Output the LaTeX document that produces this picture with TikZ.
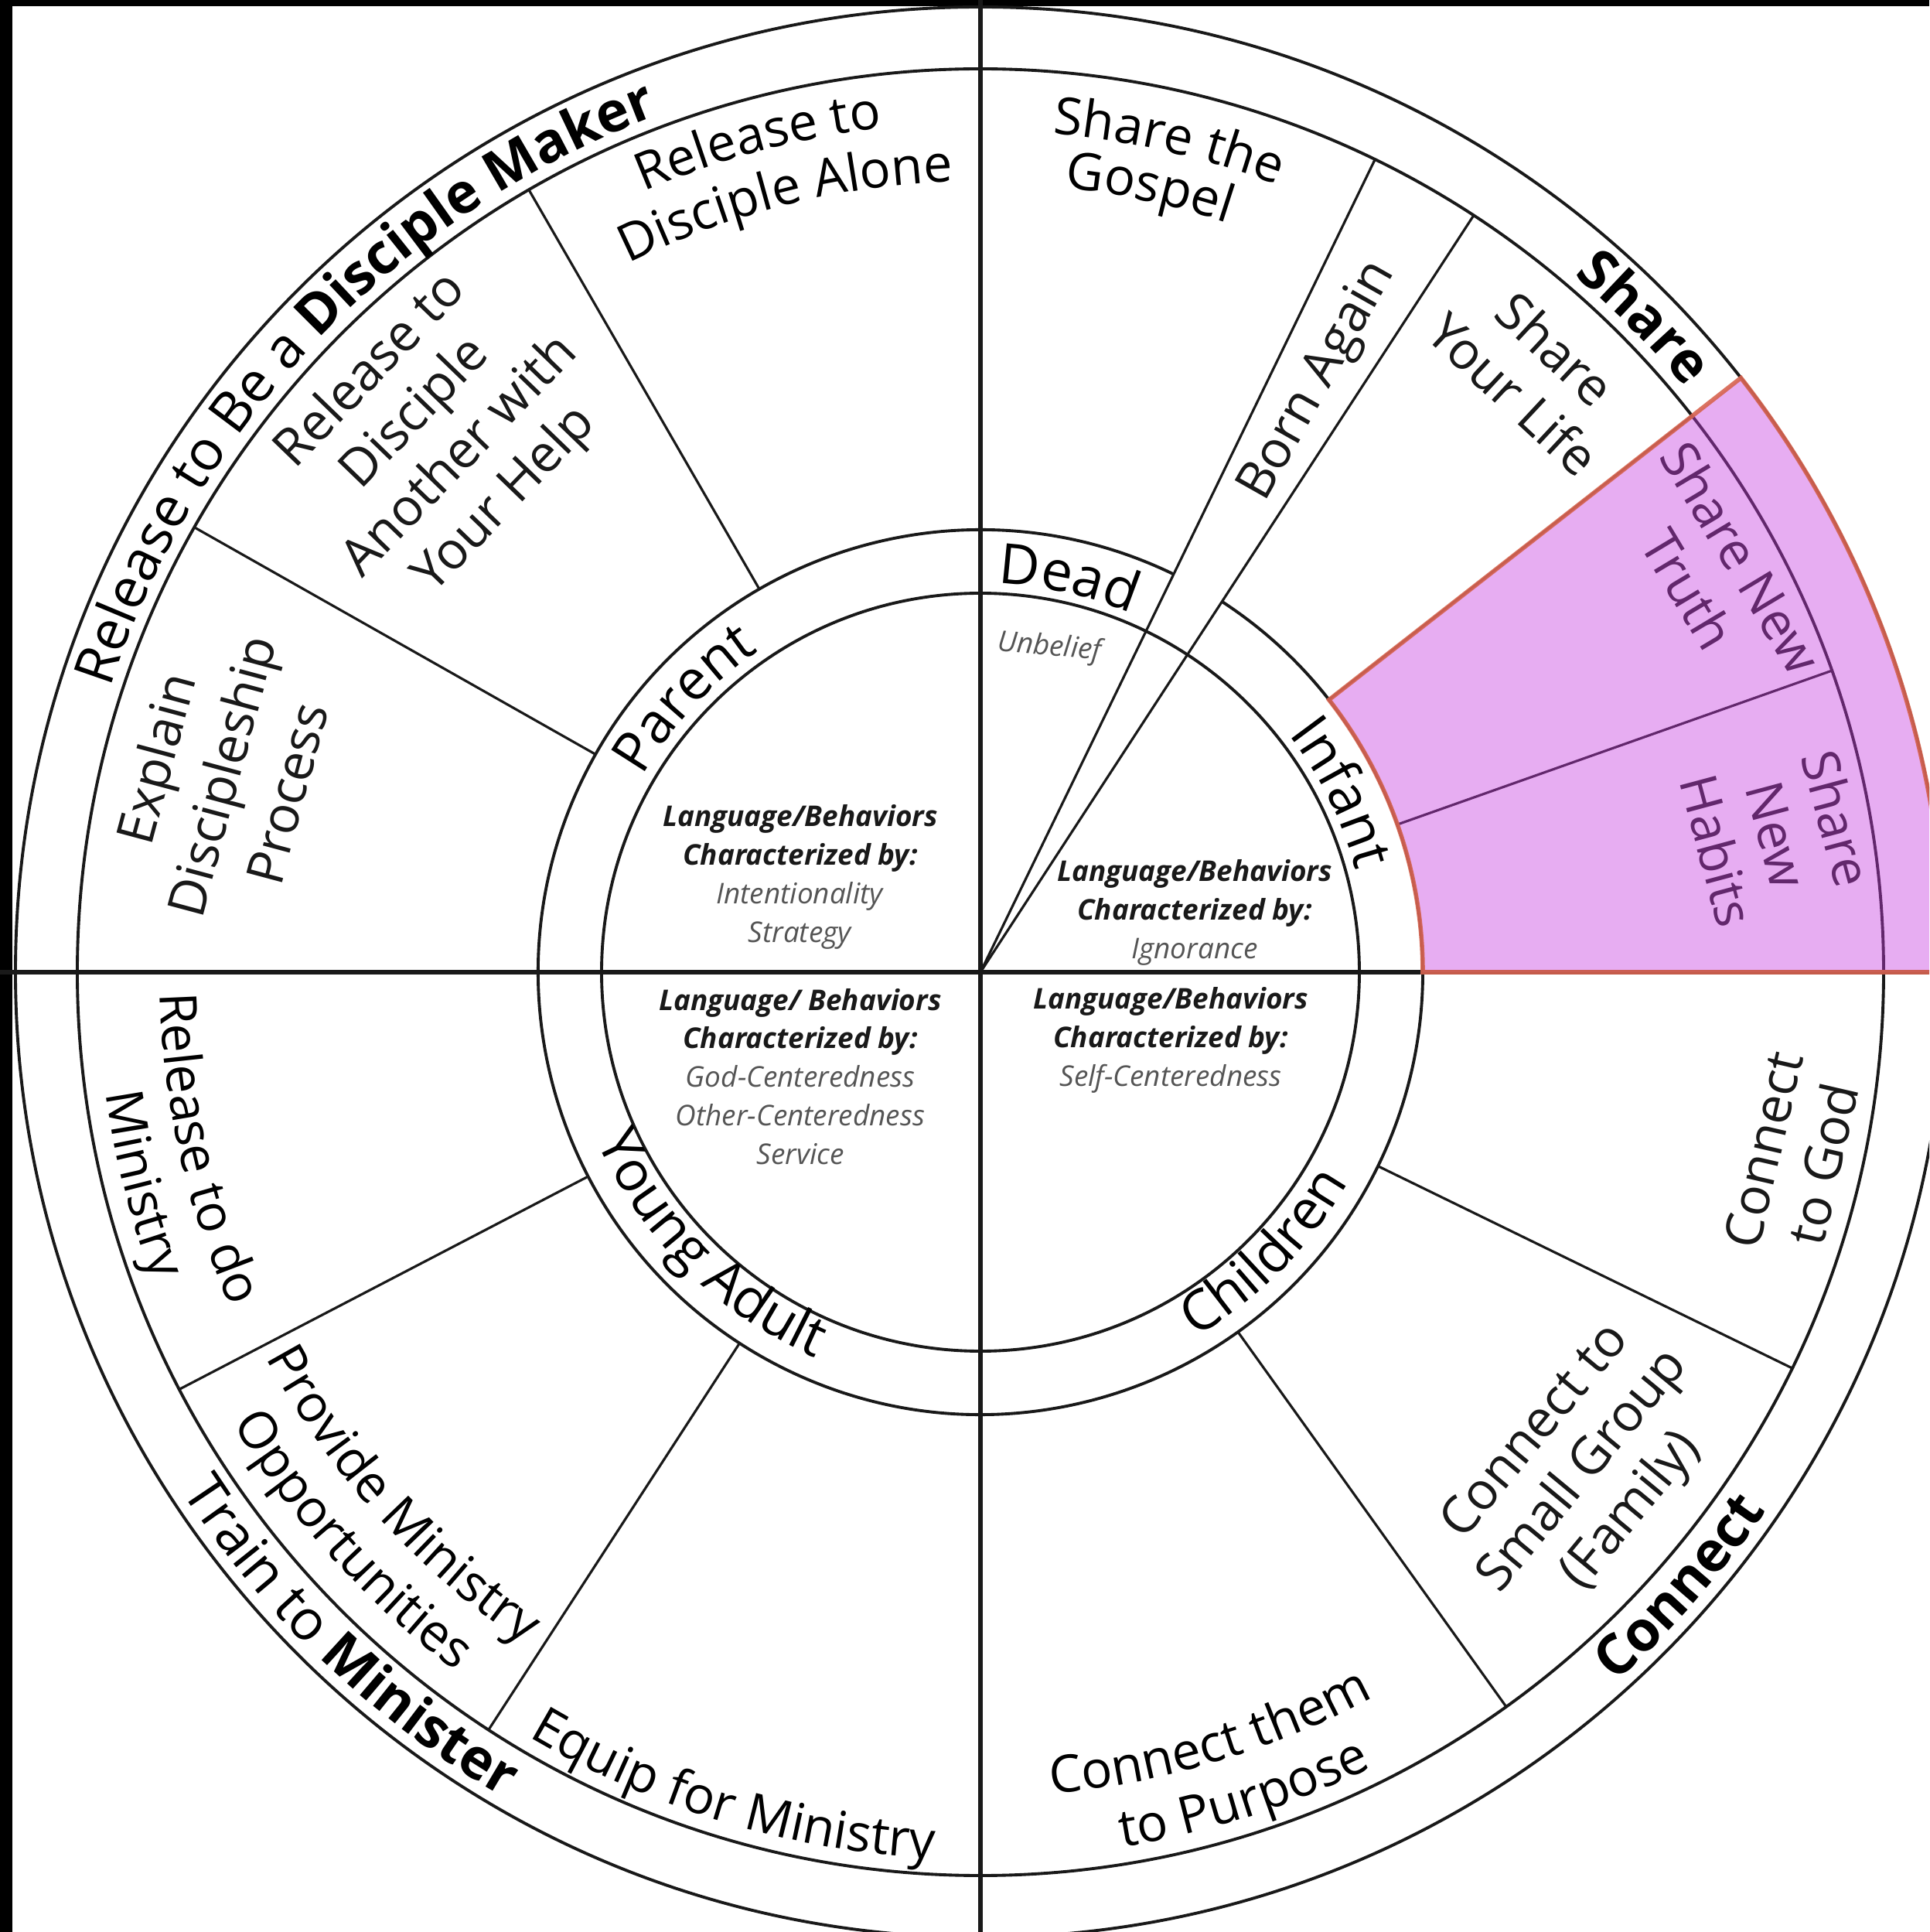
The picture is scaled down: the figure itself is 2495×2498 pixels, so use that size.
\documentclass[tikz,border=0pt]{standalone}
\usepackage{fontspec}
\setmainfont{Open Sans}
\usetikzlibrary{decorations.text}

\definecolor{ink}{RGB}{25,25,25}
\definecolor{notegray}{RGB}{85,85,85}
\definecolor{sharepink}{RGB}{200,60,225}
\definecolor{shareedge}{RGB}{215,100,80}

\newcommand{\sectorfont}{\fontsize{19pt}{22.8pt}\selectfont}
\newcommand{\ringfont}{\fontsize{20.5pt}{24pt}\selectfont}
\newcommand{\notefont}{\fontsize{10.5pt}{14.2pt}\selectfont}
\newcommand{\notehead}[1]{\textbf{\textit{#1}}}
\newcommand{\noteitem}[1]{\textcolor{notegray}{\textit{#1}}}

% text on an arc, read clockwise (upper half)
\newcommand{\toparc}[4]{%
  \path[decorate, decoration={text along path, text align=center, text={#4}}]
    (#1+#3:#2) arc[start angle=#1+#3, end angle=#1-#3, radius=#2];}
% text on an arc, read counterclockwise (lower half)
\newcommand{\botarc}[4]{%
  \path[decorate, decoration={text along path, text align=center, text={#4}}]
    (#1-#3:#2) arc[start angle=#1-#3, end angle=#1+#3, radius=#2];}

\begin{document}
\begin{tikzpicture}[x=0.1mm, y=0.1mm,
    crossline/.style={draw=ink, line width=1.8pt},
    ringline/.style={draw=ink, line width=1.1pt},
    divider/.style={draw=ink, line width=0.9pt},
    sector/.style={align=center, font=\sectorfont, text=ink, inner sep=0pt},
    note/.style={align=center, font=\notefont, text=ink, inner sep=0pt}]
    \useasboundingbox (-1268,-1241) rectangle (1227,1257);
    \clip (-1268,-1241) rectangle (1227,1257);
    \fill[white] (-1268,-1241) rectangle (1227,1257);
    % Frame strips
    \fill[black] (-1268,1249) rectangle (1227,1257);
    \fill[black] (-1268,-1241) rectangle (-1252,1257);

    % Rings
    \draw[ringline] (0,0) circle[radius=490];
    \draw[ringline] (64.1:572) arc[start angle=64.1, end angle=416.9, radius=572];
    \draw[ringline] (0,0) circle[radius=1168];
    \draw[ringline] (0,0) circle[radius=1248];

    % Dividers
    \foreach \a in {19.5, 38, 120, 150.5, 207.5, 237, 305.6, 334}
        \draw[divider] (\a:572) -- (\a:1168);
    \coordinate (hub) at (0,0);
    \coordinate (bornleft) at (64.1:1168);
    \coordinate (bornright) at (56.9:1168);
    \draw[divider] (hub) -- (bornleft);
    \draw[divider] (hub) -- (bornright);

    % Cross
    \coordinate (west) at (-1268,0);
    \coordinate (east) at (1227,0);
    \coordinate (north) at (0,1257);
    \coordinate (south) at (0,-1241);
    \draw[crossline] (west) -- (east);
    \draw[crossline] (north) -- (south);

    % Outer ring labels
    \toparc{136.3}{1184}{40}{|\ringfont|Release to Be a |\ringfont\bfseries|Disciple Maker}
    \toparc{44.6}{1184}{20}{|\ringfont\bfseries|Share}
    \botarc{318.7}{1232}{20}{|\ringfont\bfseries|Connect}
    \botarc{226.5}{1232}{25}{|\ringfont|Train to |\ringfont\bfseries|Minister}

    % Stage labels
    \toparc{137.3}{505}{30}{|\ringfont|Parent}
    \toparc{77.3}{503}{25}{|\ringfont|Dead}
    \toparc{26.4}{503}{25}{|\ringfont|Infant}
    \botarc{315.4}{548}{25}{|\ringfont|Children}
    \botarc{225.3}{542}{30}{|\ringfont|Young Adult}

    % Step labels on arcs
    \toparc{105}{1099}{20}{|\sectorfont|Release to}
    \toparc{104.2}{1023}{20}{|\sectorfont|Disciple Alone}
    \toparc{77.2}{1088}{15}{|\sectorfont|Share the}
    \toparc{77.8}{1020}{12}{|\sectorfont|Gospel}
    \botarc{253.2}{1148}{20}{|\sectorfont|Equip for Ministry}
    \botarc{286.7}{1066}{20}{|\sectorfont|Connect them}
    \botarc{287.7}{1146}{20}{|\sectorfont|to Purpose}
    \botarc{192.8}{1062}{20}{|\sectorfont|Release to do}
    \botarc{194.2}{1142}{15}{|\sectorfont|Ministry}
    \botarc{222.1}{1050}{20}{|\sectorfont|Provide Ministry}
    \botarc{222.1}{1130}{20}{|\sectorfont|Opportunities}

    % Step labels
    \node[sector, rotate=46] (helplabel) at (135.3:986) {Release to\\Disciple\\Another with\\Your Help};
    \node[sector, rotate=75, font=\fontsize{19pt}{25pt}\selectfont] (explainlabel) at (165.5:1015) {Explain\\Discipleship\\Process};
    \node[sector, rotate=60.5] (bornlabel) at (60.2:880) {Born Again};
    \node[sector, rotate=-43] (lifelabel) at (47.3:1057) {Share\\Your Life};
    \node[sector, rotate=-59] (truthlabel) at (28.5:1081) {Share New\\Truth};
    \node[sector, rotate=-75] (habitslabel) at (9.8:1046) {Share\\New\\Habits};
    \node[sector, rotate=50.4] (grouplabel) at (320.4:1014) {Connect to\\Small Group\\(Family)};
    \node[sector, rotate=77] (godlabel) at (347.2:1078) {Connect\\to God};

    % Notes
    \node[note, rotate=-5] (unbelief) at (77.7:429) {\noteitem{Unbelief}};
    \node[note] (parentnote) at (-233,123) {\notehead{Language/Behaviors}\\\notehead{Characterized by:}\\\noteitem{Intentionality}\\\noteitem{Strategy}};
    \node[note] (infantnote) at (277,77) {\notehead{Language/Behaviors}\\\notehead{Characterized by:}\\\noteitem{Ignorance}};
    \node[note] (adultnote) at (-233,-135) {\notehead{Language/ Behaviors}\\\notehead{Characterized by:}\\\noteitem{God-Centeredness}\\\noteitem{Other-Centeredness}\\\noteitem{Service}};
    \node[note] (childnote) at (246,-88) {\notehead{Language/Behaviors}\\\notehead{Characterized by:}\\\noteitem{Self-Centeredness}};

    % Highlight
    \filldraw[fill=sharepink, fill opacity=0.42, draw=shareedge, draw opacity=0.9, line width=1.6pt]
        (0:572) -- (0:1248) arc[start angle=0, end angle=38, radius=1248]
        -- (38:572) arc[start angle=38, end angle=0, radius=572] -- cycle;
\end{tikzpicture}
\end{document}
